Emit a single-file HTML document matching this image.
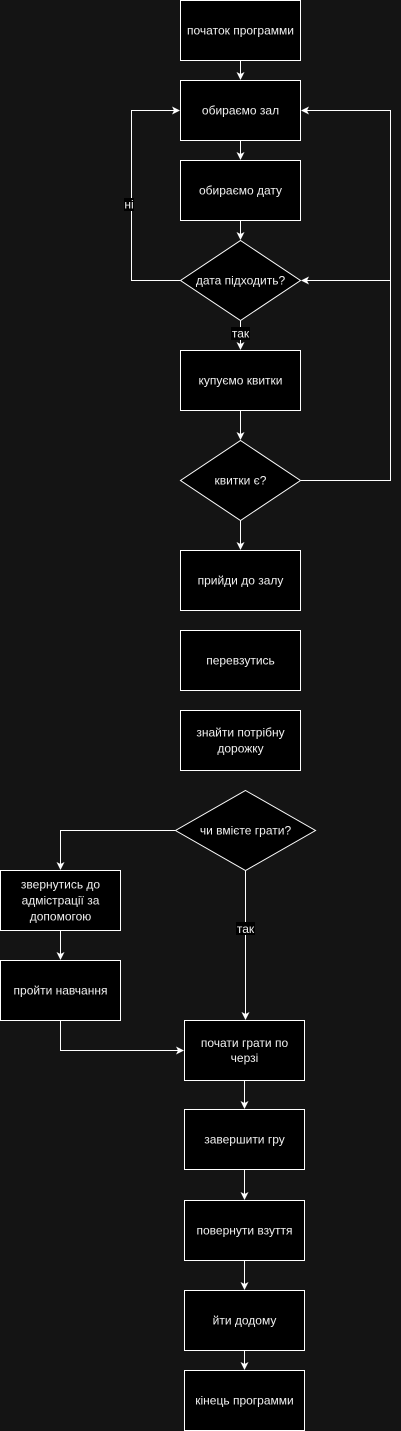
<!DOCTYPE html>
<html><head><meta charset="utf-8"><style>
html,body{margin:0;padding:0;background:#141414;}
svg{display:block}
text{font-family:"Liberation Sans",sans-serif;font-size:12px;fill:#f0f0f0;text-anchor:middle;dominant-baseline:central}
</style></head><body>
<svg width="401" height="1431" viewBox="0 0 401 1431" xmlns="http://www.w3.org/2000/svg">
<defs><marker id="a" markerWidth="8" markerHeight="8" refX="7" refY="4" orient="auto" markerUnits="userSpaceOnUse"><path d="M0,0 L8,4 L0,8 L2,4 Z" fill="#fff"/></marker></defs>
<g fill="#000" stroke="#fff" stroke-width="1">
<rect x="180.5" y="0.5" width="120" height="60"/>
<rect x="180.5" y="80.5" width="120" height="60"/>
<rect x="180.5" y="160.5" width="120" height="60"/>
<polygon points="240.5,240.5 300.5,280.5 240.5,320.5 180.5,280.5"/>
<rect x="180.5" y="350.5" width="120" height="60"/>
<polygon points="240.5,440.5 300.5,480.5 240.5,520.5 180.5,480.5"/>
<rect x="180.5" y="550.5" width="120" height="60"/>
<rect x="180.5" y="630.5" width="120" height="60"/>
<rect x="180.5" y="710.5" width="120" height="60"/>
<polygon points="245.5,790.5 315.5,830.5 245.5,870.5 175.5,830.5"/>
<rect x="0.5" y="870.5" width="120" height="60"/>
<rect x="0.5" y="960.5" width="120" height="60"/>
<rect x="184.5" y="1020.5" width="120" height="60"/>
<rect x="184.5" y="1109.5" width="120" height="60"/>
<rect x="184.5" y="1200.5" width="120" height="60"/>
<rect x="184.5" y="1290.5" width="120" height="60"/>
<rect x="184.5" y="1370.5" width="120" height="60"/>
</g>
<g fill="none" stroke="#fff" stroke-width="1" marker-end="url(#a)">
<path d="M240.5,61 V79"/>
<path d="M240.5,141 V159"/>
<path d="M240.5,221 V239"/>
<path d="M240.5,321 V349"/>
<path d="M240.5,411 V439"/>
<path d="M240.5,521 V549"/>
<path d="M180,280.5 H131.5 V110.5 H179"/>
<path d="M301,480.5 H390.5 V110.5 H302"/>
<path d="M390.5,280.5 H302"/>
<path d="M175,830.5 H60.5 V869"/>
<path d="M60.5,931 V959"/>
<path d="M60.5,1021 V1050.5 H183"/>
<path d="M245.5,871 V1019"/>
<path d="M244.5,1081 V1108"/>
<path d="M244.5,1170 V1199"/>
<path d="M244.5,1261 V1289"/>
<path d="M244.5,1351 V1369"/>
</g>
<rect x="124" y="198" width="10" height="13" fill="#000"/>
<text x="129" y="204.5" font-size="11">ні</text>
<rect x="231" y="327" width="19" height="13" fill="#000"/>
<text x="240.5" y="333.5" font-size="11">так</text>
<rect x="236" y="922" width="19" height="13" fill="#000"/>
<text x="245.5" y="929" font-size="11">так</text>
<text x="240.5" y="30.5">початок программи</text>
<text x="240.5" y="110.5">обираємо зал</text>
<text x="240.5" y="190.5">обираємо дату</text>
<text x="240.5" y="280.5">дата підходить?</text>
<text x="240.5" y="380.5">купуємо квитки</text>
<text x="240.5" y="480.5">квитки є?</text>
<text x="240.5" y="580.5">прийди до залу</text>
<text x="240.5" y="660.5">перевзутись</text>
<text x="240.5" y="732.5">знайти потрібну</text>
<text x="240.5" y="748.5">дорожку</text>
<text x="245.5" y="830.5">чи вмієте грати?</text>
<text x="60.5" y="884.5">звернутись до</text>
<text x="60.5" y="900.5">адмістрації за</text>
<text x="60.5" y="916.5">допомогою</text>
<text x="60.5" y="990.5">пройти навчання</text>
<text x="244.5" y="1043">почати грати по</text>
<text x="244.5" y="1058">черзі</text>
<text x="244.5" y="1139.5">завершити гру</text>
<text x="244.5" y="1230.5">повернути взуття</text>
<text x="244.5" y="1320.5">йти додому</text>
<text x="244.5" y="1400.5">кінець программи</text>
</svg>
</body></html>
